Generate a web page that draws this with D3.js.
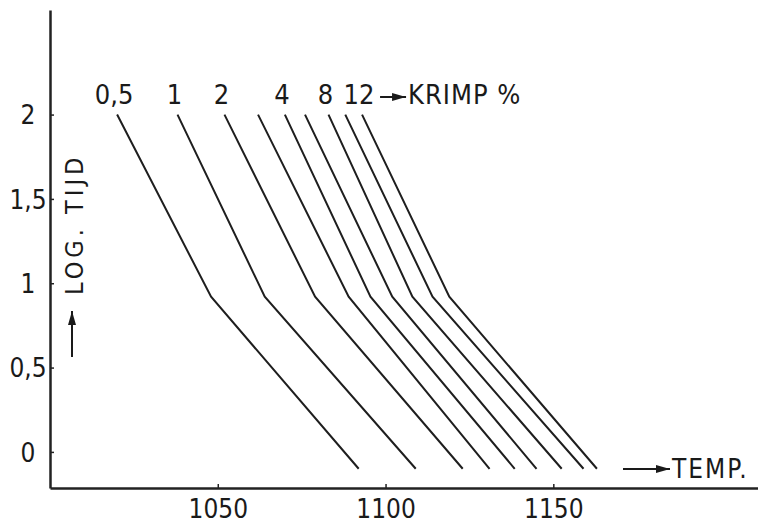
<!DOCTYPE html>
<html>
<head>
<meta charset="utf-8">
<script src="https://cdn.jsdelivr.net/npm/d3@7"></script>
<style>
  body { margin: 0; background: #fff; }
  text { font-family: "DejaVu Sans Condensed", "Liberation Sans Narrow", sans-serif; fill: #1a1a1a; }
</style>
</head>
<body>
<div id="chart"></div>
<script>
// shrinkage levels (krimp %), one line each
const krimp = [0.5, 1, 2, 3, 4, 6, 8, 10, 12];
const krimpLabels = ["0,5", "1", "2", "", "4", "", "8", "", "12"];
// log time at the three vertices of every line
const logTime = [2, 0.92, -0.1];
// temperature at those vertices
const tempTop = [1020, 1038, 1052, 1062, 1070, 1076, 1083, 1088, 1093];
const tempKnee = [1048, 1064, 1079, 1089, 1095.5, 1102, 1108, 1114, 1119];
const tempEnd = [1092, 1109, 1123, 1131, 1138.5, 1145, 1152.5, 1159, 1163];

const xTicks = [1050, 1100, 1150];
const yTicks = [0, 0.5, 1, 1.5, 2];

const width = 758;
const height = 525;

const svg = d3.select("#chart").append("svg")
  .attr("width", width)
  .attr("height", height);

const x = d3.scaleLinear().domain([1000, 1211]).range([50, 758]);
const y = d3.scaleLinear().domain([-0.214, 2.62]).range([488, 10]);

const fmt = d => String(d).replace(".", ",");

// x axis
const gx = svg.append("g")
  .attr("transform", `translate(0,${y.range()[0]})`)
  .call(d3.axisBottom(x).tickValues(xTicks).tickSize(-4).tickSizeOuter(0).tickFormat(fmt));
gx.select(".domain").attr("stroke", "#222").attr("stroke-width", 2.5);
gx.selectAll(".tick line").attr("stroke", "#222").attr("stroke-width", 1.5);
gx.selectAll(".tick text")
  .attr("y", 30).attr("dy", 0)
  .attr("font-size", 26)
  .attr("font-family", null)
  .attr("fill", "#1a1a1a");

// y axis
const gy = svg.append("g")
  .attr("transform", `translate(${x.range()[0]},0)`)
  .call(d3.axisLeft(y).tickValues(yTicks).tickSize(-4).tickSizeOuter(0).tickFormat(fmt));
gy.select(".domain").attr("stroke", "#222").attr("stroke-width", 2.5);
gy.selectAll(".tick line").attr("stroke", "#222").attr("stroke-width", 1.5);
gy.selectAll(".tick text")
  .attr("x", -22).attr("dy", "0.36em")
  .attr("text-anchor", "middle")
  .attr("font-size", 26)
  .attr("font-family", null)
  .attr("fill", "#1a1a1a");

// the shrinkage lines
const series = krimp.map((k, i) => ({
  k,
  label: krimpLabels[i],
  pts: [tempTop[i], tempKnee[i], tempEnd[i]].map((t, j) => [t, logTime[j]])
}));

const line = d3.line().x(d => x(d[0])).y(d => y(d[1]));

svg.append("g")
  .attr("fill", "none")
  .attr("stroke", "#1e1e1e")
  .attr("stroke-width", 2)
  .selectAll("path")
  .data(series)
  .join("path")
  .attr("d", d => line(d.pts));

svg.append("g")
  .selectAll("text")
  .data(series.filter(d => d.label))
  .join("text")
  .attr("x", d => x(d.pts[0][0]) - 3)
  .attr("y", y(logTime[0]) - 11)
  .attr("text-anchor", "middle")
  .attr("font-size", 27)
  .text(d => d.label);

// arrow marker
svg.append("defs").append("marker")
  .attr("id", "head")
  .attr("viewBox", "0 0 14 10")
  .attr("refX", 14).attr("refY", 5)
  .attr("markerWidth", 14).attr("markerHeight", 10)
  .attr("markerUnits", "userSpaceOnUse")
  .attr("orient", "auto")
  .append("path").attr("d", "M0,1L14,5L0,9Z").attr("fill", "#1a1a1a");

function arrow(x1, y1, x2, y2, w) {
  svg.append("line")
    .attr("x1", x1).attr("y1", y1).attr("x2", x2).attr("y2", y2)
    .attr("stroke", "#1a1a1a").attr("stroke-width", w)
    .attr("marker-end", "url(#head)");
}

// KRIMP % legend title
const lastLabel = series[series.length - 1];
const kx = x(lastLabel.pts[0][0]) + 18;
arrow(kx, 97, kx + 26, 97, 2);
svg.append("text")
  .attr("x", kx + 28)
  .attr("y", y(logTime[0]) - 11)
  .attr("font-size", 27)
  .attr("letter-spacing", 1)
  .text("KRIMP %");

// x axis title
arrow(623, 469, 670, 469, 2);
svg.append("text")
  .attr("x", 672)
  .attr("y", 478)
  .attr("font-size", 26)
  .attr("letter-spacing", 2)
  .text("TEMP.");

// y axis title
svg.append("text")
  .attr("transform", "translate(83,295) rotate(-90)")
  .attr("font-size", 25)
  .attr("letter-spacing", 4)
  .text("LOG. TIJD");
arrow(72, 357, 72, 311, 2);
</script>
</body>
</html>
